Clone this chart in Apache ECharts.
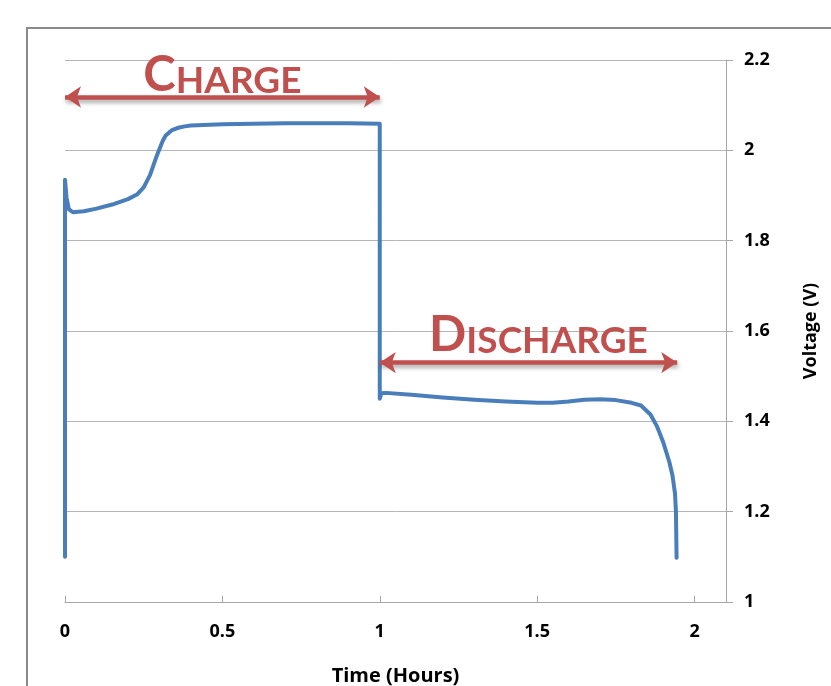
<!DOCTYPE html>
<html>
<head>
<meta charset="utf-8">
<script src="https://cdn.jsdelivr.net/npm/echarts@6/dist/echarts.min.js"></script>
<style>
  html, body { margin: 0; padding: 0; background: #fff; }
  #container { width: 831px; height: 686px; }
</style>
</head>
<body>
<div id="container"></div>
<script>
// time (hours) and voltage (V)
var chargeTime = [0, 0, 0.005, 0.012, 0.025, 0.06, 0.1, 0.15, 0.2, 0.23, 0.25, 0.27, 0.29, 0.31, 0.32, 0.34, 0.36, 0.38, 0.4, 0.5, 0.6, 0.7, 0.8, 0.9, 1.0];
var chargeVolt = [1.10, 1.935, 1.895, 1.87, 1.863, 1.865, 1.871, 1.88, 1.892, 1.903, 1.918, 1.945, 1.985, 2.02, 2.033, 2.045, 2.05, 2.053, 2.055, 2.058, 2.059, 2.06, 2.06, 2.06, 2.059];
var dischargeTime = [1.0, 1.005, 1.02, 1.1, 1.2, 1.3, 1.4, 1.5, 1.55, 1.6, 1.65, 1.7, 1.75, 1.8, 1.83, 1.86, 1.88, 1.9, 1.92, 1.93, 1.938, 1.941, 1.943];
var dischargeVolt = [1.45, 1.462, 1.463, 1.459, 1.453, 1.448, 1.444, 1.441, 1.441, 1.444, 1.448, 1.449, 1.447, 1.441, 1.435, 1.415, 1.39, 1.355, 1.31, 1.28, 1.24, 1.2, 1.098];

// arrows: [start time, end time, voltage level]
var chargeArrow = [0, 1.0, 2.118];
var dischargeArrow = [1.0, 1.945, 1.53];

var red = '#C0504D';
var blue = '#4A7EBB';

function buildPoints() {
	let pts = [];
	chargeTime.forEach((t, i) => { pts = [...pts, [t, chargeVolt[i]]]; });
	dischargeTime.forEach((t, i) => { pts = [...pts, [t, dischargeVolt[i]]]; });
	return pts;
}

function arrowLine(arr, big, rest, dist, off) {
	return [{
		name: big + rest,
		coord: [arr[0], arr[2]],
		label: {
			show: true,
			position: 'insideMiddleTop',
			distance: dist,
			offset: off,
			formatter: '{b|' + big + '}{s|' + rest + '}',
			rich: {
				b: { fontFamily: 'Lato', fontWeight: 'bold', fontSize: 49, color: red, lineHeight: 49, verticalAlign: 'bottom' },
				s: { fontFamily: 'Lato', fontWeight: 'bold', fontSize: 37, color: red, lineHeight: 39, verticalAlign: 'bottom' }
			}
		}
	}, {
		coord: [arr[1], arr[2]]
	}];
}

var dom = document.getElementById('container');
var chart = echarts.init(dom);

var option = {
	animation: false,
	backgroundColor: '#fff',
	graphic: [{
		type: 'rect',
		shape: { x: 27, y: 28, width: 900, height: 800 },
		style: { fill: 'none', stroke: '#8a8a8a', lineWidth: 2 },
		silent: true
	}],
	grid: { left: 65, right: 105, top: 60, bottom: 84, outerBoundsMode: 'none' },
	xAxis: {
		type: 'value',
		min: 0,
		max: 2.1,
		interval: 0.5,
		name: 'Time (Hours)',
		nameLocation: 'middle',
		nameGap: 64,
		nameTextStyle: { fontFamily: 'Open Sans', fontWeight: 'bold', fontSize: 20, color: '#000' },
		axisLine: { show: true, onZero: false, lineStyle: { color: '#a6a6a6', width: 1 } },
		axisTick: { show: true, inside: true, length: 6, lineStyle: { color: '#a6a6a6' } },
		axisLabel: { showMaxLabel: false, margin: 21, fontFamily: 'Open Sans', fontWeight: 'bold', fontSize: 18, color: '#000' },
		splitLine: { show: false }
	},
	yAxis: {
		type: 'value',
		position: 'right',
		min: 1,
		max: 2.2,
		interval: 0.2,
		name: 'Voltage (V)',
		nameLocation: 'middle',
		nameRotate: 90,
		nameGap: 76,
		nameTextStyle: { fontFamily: 'Open Sans', fontWeight: 'bold', fontSize: 18, color: '#000' },
		axisLine: { show: true, onZero: false, lineStyle: { color: '#a6a6a6', width: 1 } },
		axisTick: { show: true, inside: false, length: 7, lineStyle: { color: '#a6a6a6' } },
		axisLabel: {
			margin: 18,
			fontFamily: 'Open Sans', fontWeight: 'bold', fontSize: 18, color: '#000',
			formatter: function (v) { return String(Math.round(v * 10) / 10); }
		},
		splitLine: { show: true, lineStyle: { color: '#b5b5b5', width: 1 } }
	},
	series: [{
		type: 'line',
		data: buildPoints(),
		showSymbol: false,
		smooth: false,
		lineStyle: { color: blue, width: 4, cap: 'round', join: 'round' },
		itemStyle: { color: blue },
		markLine: {
			silent: true,
			symbol: ['arrow', 'arrow'],
			symbolSize: [16, 16],
			lineStyle: {
				type: 'solid', color: red, width: 4.5,
				shadowColor: 'rgba(0,0,0,0.35)', shadowBlur: 4, shadowOffsetY: 3, shadowOffsetX: 1
			},
			data: [
				arrowLine(chargeArrow, 'C', 'HARGE', 2, [0, 5]),
				arrowLine(dischargeArrow, 'D', 'ISCHARGE', 9, [10, 6])
			]
		}
	}]
};

chart.setOption(option, true);
</script>
</body>
</html>
